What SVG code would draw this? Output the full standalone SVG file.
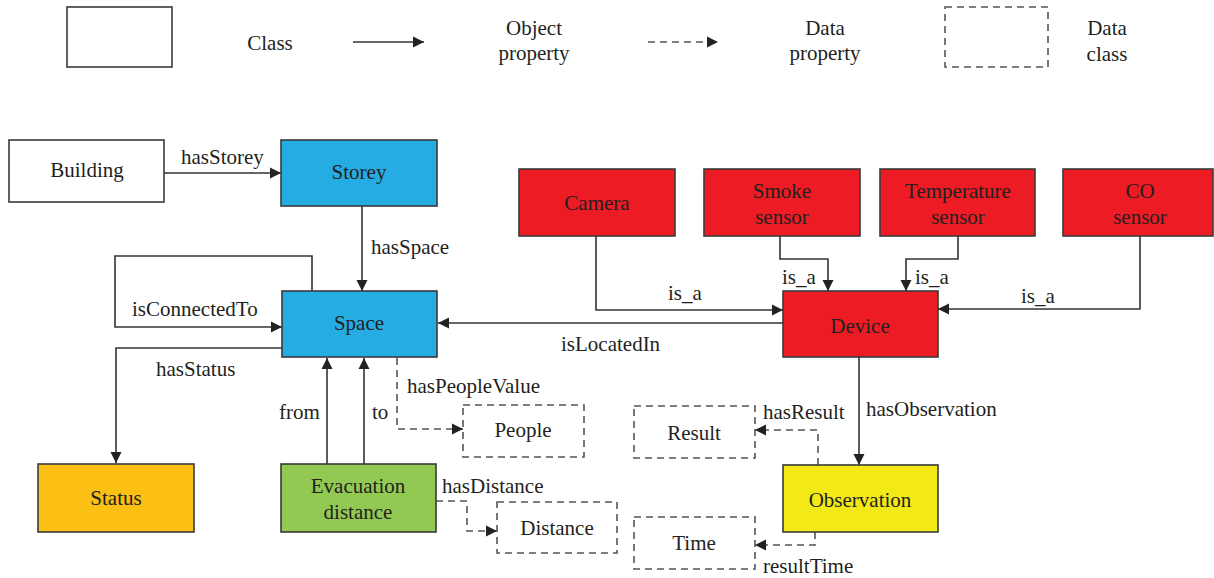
<svg xmlns="http://www.w3.org/2000/svg" width="1214" height="578" viewBox="0 0 1214 578">
  <style>
    text { font-family: "Liberation Serif", "Times New Roman", serif; font-size: 21px; fill: #231f20; dominant-baseline: central; }
    .c { text-anchor: middle; }
    .box { stroke: #3a3a3a; stroke-width: 1.6; }
    .dbox { fill: #ffffff; stroke: #555555; stroke-width: 1.6; stroke-dasharray: 7 5; }
    .edge { fill: none; stroke: #333333; stroke-width: 1.6; marker-end: url(#arrow); }
    .dedge { fill: none; stroke: #555555; stroke-width: 1.6; stroke-dasharray: 7 5; marker-end: url(#arrow); }
    .white { fill: #ffffff; }
    .blue { fill: #25ace2; }
    .red { fill: #ed1c24; }
    .orange { fill: #fcbf14; }
    .green { fill: #92c953; }
    .yellow { fill: #f2e917; }
  </style>
  <defs>
    <marker id="arrow" viewBox="0 0 10 10" refX="10" refY="5" markerUnits="userSpaceOnUse" markerWidth="11" markerHeight="12" orient="auto">
      <path d="M0,0 L10,5 L0,10 z" fill="#222222"/>
    </marker>
  </defs>

  <!-- legend -->
  <g id="legend">
    <rect class="box white" x="67" y="7" width="105" height="60"/>
    <text class="c" x="270" y="43">Class</text>
    <path class="edge" d="M353,42 H424"/>
    <text class="c" x="534" y="28">Object</text>
    <text class="c" x="534" y="53">property</text>
    <path class="dedge" d="M648,42 H718"/>
    <text class="c" x="825" y="28">Data</text>
    <text class="c" x="825" y="53">property</text>
    <rect class="dbox" x="945" y="7" width="103" height="60"/>
    <text class="c" x="1107" y="28">Data</text>
    <text class="c" x="1107" y="54">class</text>
  </g>

  <!-- connectors -->
  <g id="connectors">
    <path class="edge" d="M164,173 H281"/>
    <path class="edge" d="M362,206 V291"/>
    <path class="edge" d="M312,291 V256 H115 V327 H282"/>
    <path class="edge" d="M282,348 H116 V463"/>
    <path class="edge" d="M327,464 V358"/>
    <path class="edge" d="M364,464 V358"/>
    <path class="edge" d="M783,323 H438"/>
    <path class="edge" d="M596,236 V310 H783"/>
    <path class="edge" d="M780,236 V259 H828 V291"/>
    <path class="edge" d="M958,236 V259 H906 V291"/>
    <path class="edge" d="M1140,236 V309 H938"/>
    <path class="edge" d="M859,357 V465"/>
    <path class="dedge" d="M397,358 V429 H463"/>
    <path class="dedge" d="M436,501 H467 V531 H497"/>
    <path class="dedge" d="M818,465 V430 H755"/>
    <path class="dedge" d="M815,532 V545 H755"/>

    <text x="181" y="157">hasStorey</text>
    <text x="371" y="247">hasSpace</text>
    <text x="132" y="309">isConnectedTo</text>
    <text x="156" y="369">hasStatus</text>
    <text x="279" y="412">from</text>
    <text x="372" y="412">to</text>
    <text x="561" y="344">isLocatedIn</text>
    <text x="668" y="293">is_a</text>
    <text x="782" y="277">is_a</text>
    <text x="915" y="277">is_a</text>
    <text x="1021" y="296">is_a</text>
    <text x="407" y="386">hasPeopleValue</text>
    <text x="442" y="486">hasDistance</text>
    <text x="866" y="409">hasObservation</text>
    <text x="763" y="412">hasResult</text>
    <text x="763" y="566">resultTime</text>
  </g>

  <g id="building">
    <rect class="box white" x="9" y="140" width="155" height="62"/>
    <text class="c" x="87" y="170">Building</text>
  </g>
  <g id="storey">
    <rect class="box blue" x="281" y="140" width="156" height="66"/>
    <text class="c" x="359" y="172">Storey</text>
  </g>
  <g id="space">
    <rect class="box blue" x="282" y="291" width="155" height="66"/>
    <text class="c" x="359" y="323">Space</text>
  </g>
  <g id="status">
    <rect class="box orange" x="38" y="464" width="156" height="68"/>
    <text class="c" x="116" y="498">Status</text>
  </g>
  <g id="evacuation-distance">
    <rect class="box green" x="281" y="464" width="155" height="68"/>
    <text class="c" x="358" y="486">Evacuation</text>
    <text class="c" x="358" y="512">distance</text>
  </g>
  <g id="people">
    <rect class="dbox" x="463" y="405" width="121" height="52"/>
    <text class="c" x="523" y="430">People</text>
  </g>
  <g id="distance">
    <rect class="dbox" x="497" y="502" width="120" height="51"/>
    <text class="c" x="557" y="528">Distance</text>
  </g>
  <g id="camera">
    <rect class="box red" x="519" y="169" width="156" height="67"/>
    <text class="c" x="597" y="203">Camera</text>
  </g>
  <g id="smoke-sensor">
    <rect class="box red" x="704" y="169" width="156" height="67"/>
    <text class="c" x="782" y="191">Smoke</text>
    <text class="c" x="782" y="217">sensor</text>
  </g>
  <g id="temperature-sensor">
    <rect class="box red" x="880" y="169" width="155" height="67"/>
    <text class="c" x="958" y="191">Temperature</text>
    <text class="c" x="958" y="217">sensor</text>
  </g>
  <g id="co-sensor">
    <rect class="box red" x="1063" y="169" width="150" height="67"/>
    <text class="c" x="1140" y="191">CO</text>
    <text class="c" x="1140" y="217">sensor</text>
  </g>
  <g id="device">
    <rect class="box red" x="783" y="291" width="155" height="66"/>
    <text class="c" x="860" y="326">Device</text>
  </g>
  <g id="observation">
    <rect class="box yellow" x="783" y="465" width="155" height="67"/>
    <text class="c" x="860" y="500">Observation</text>
  </g>
  <g id="result">
    <rect class="dbox" x="634" y="406" width="121" height="52"/>
    <text class="c" x="694" y="433">Result</text>
  </g>
  <g id="time">
    <rect class="dbox" x="634" y="517" width="121" height="52"/>
    <text class="c" x="694" y="543">Time</text>
  </g>
</svg>
